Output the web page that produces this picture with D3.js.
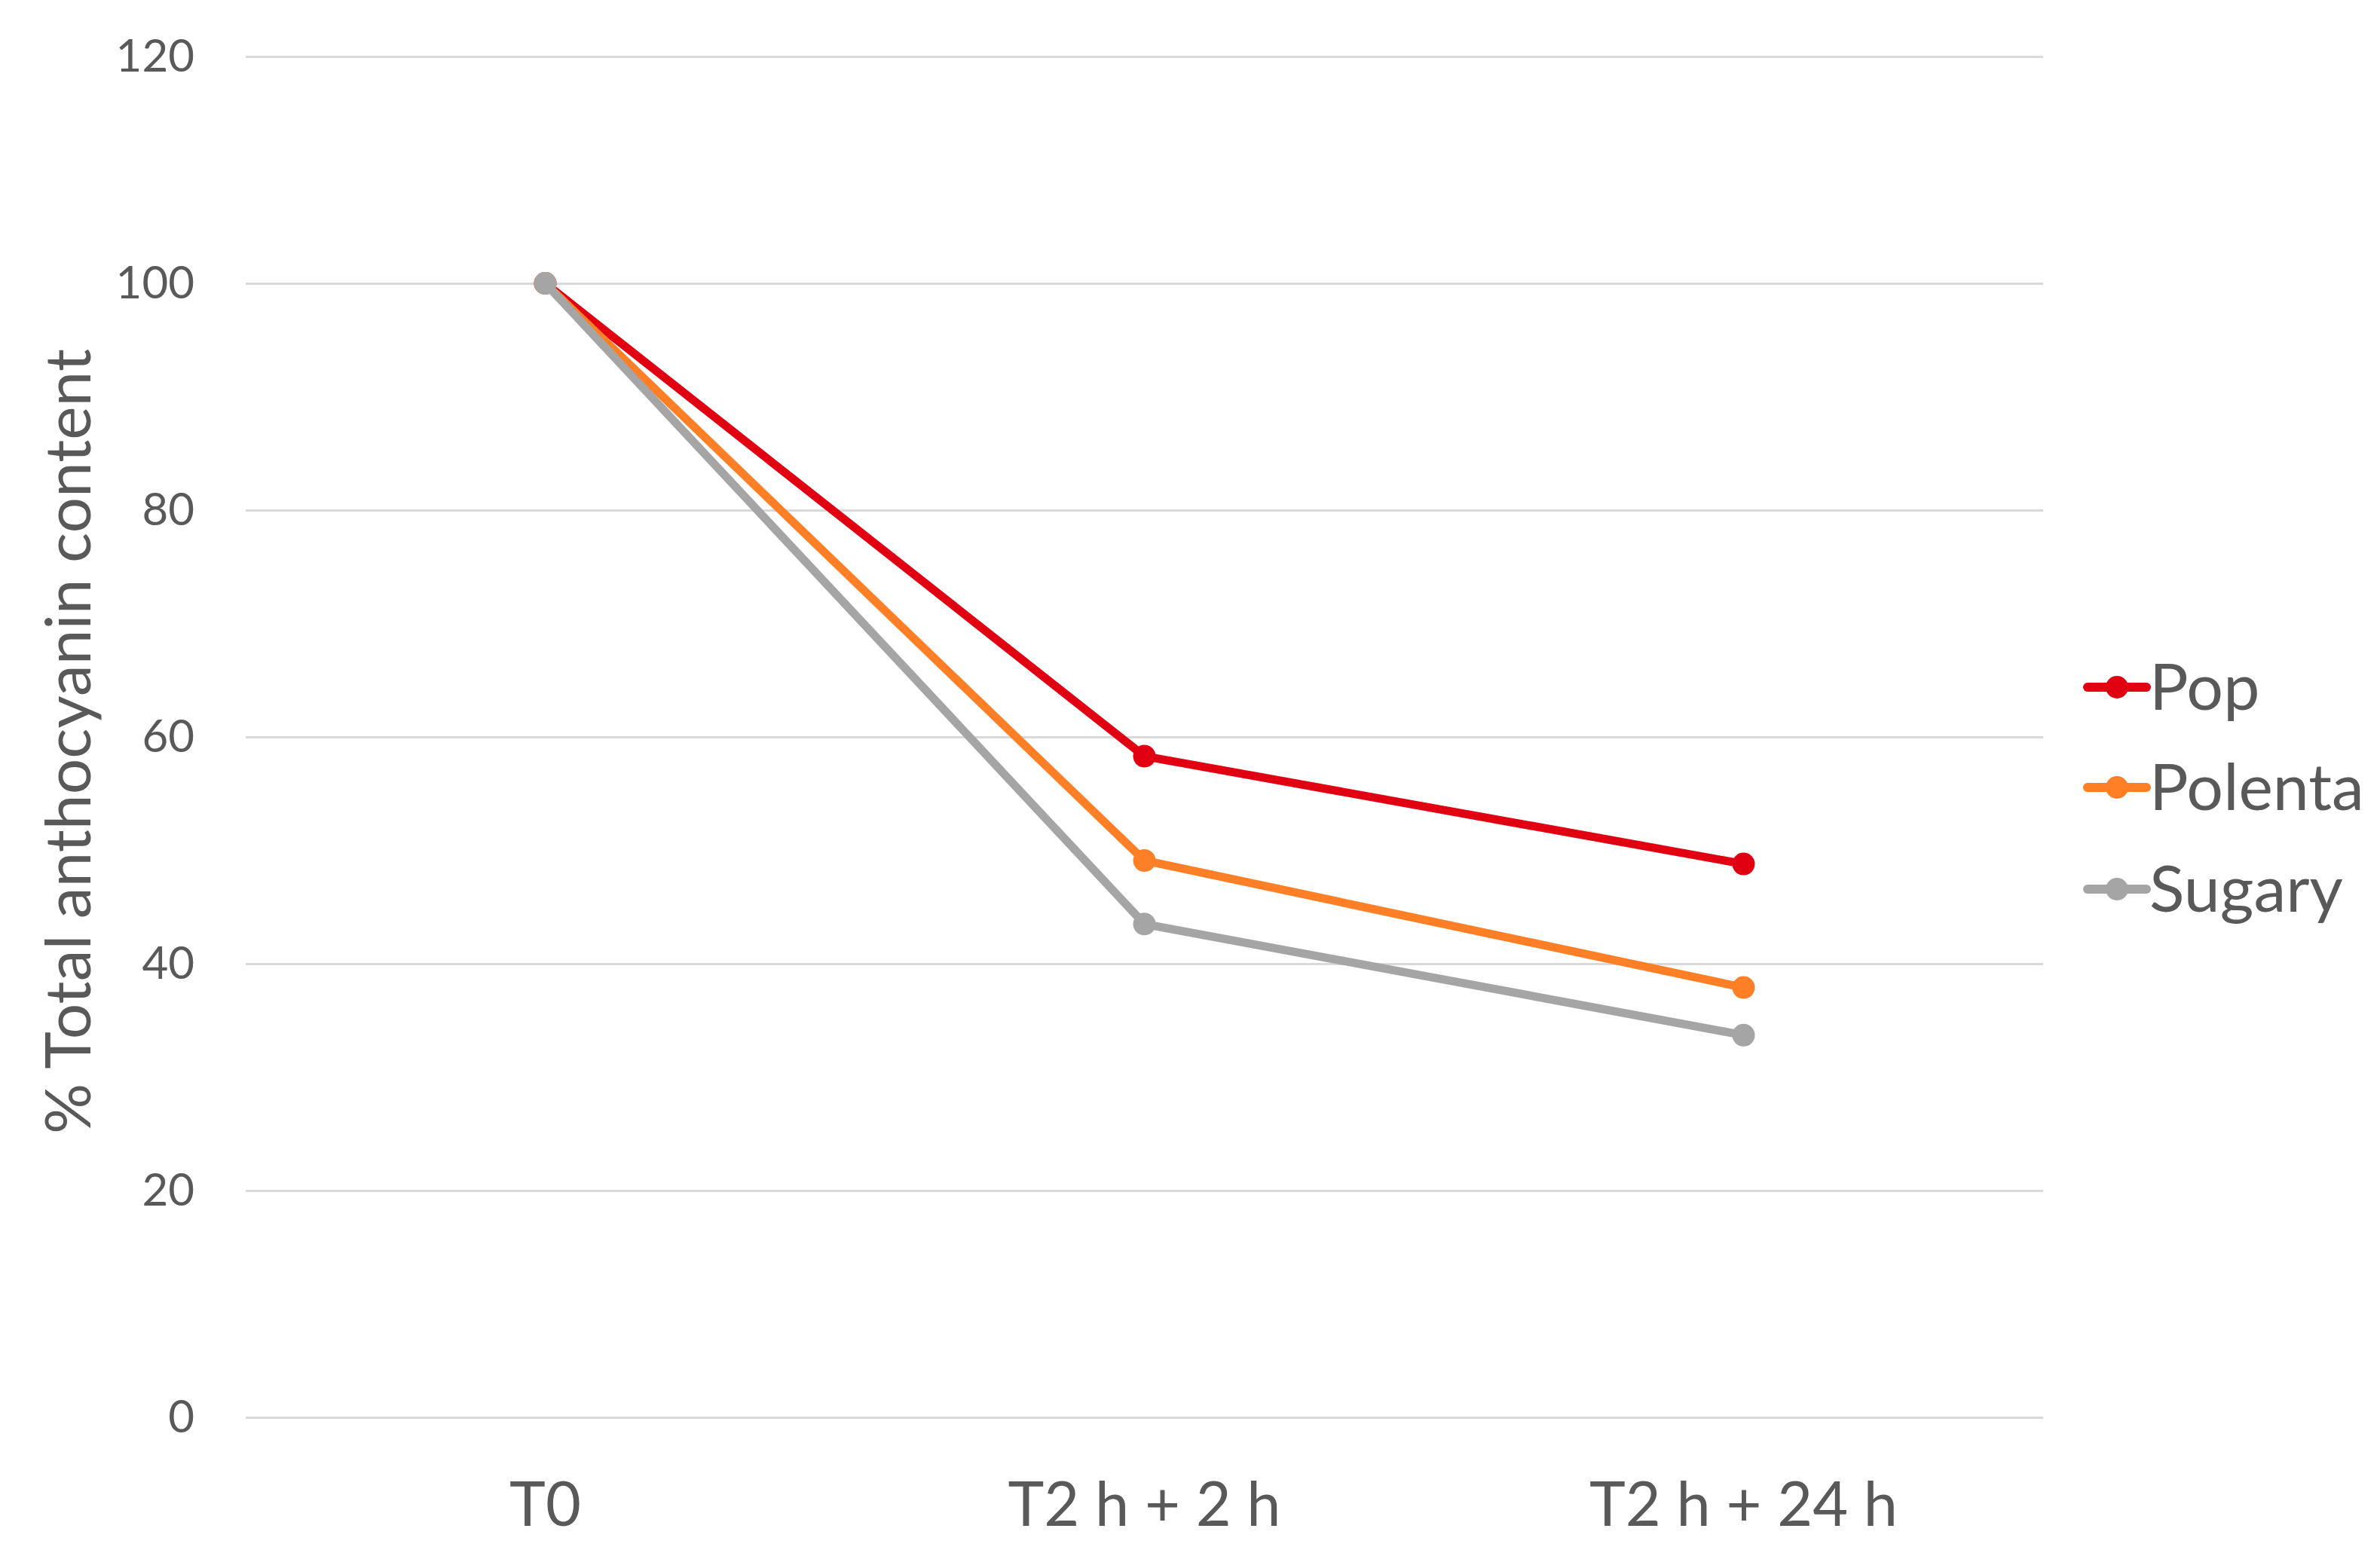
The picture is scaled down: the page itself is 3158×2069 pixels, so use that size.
<!DOCTYPE html>
<html>
<head>
<meta charset="utf-8">
<script src="https://cdn.jsdelivr.net/npm/d3@7"></script>
<style>
html,body{margin:0;padding:0;background:#fff;}
svg{display:block;}
text{font-family:Lato,"Open Sans",sans-serif;fill:#595959;}
</style>
</head>
<body>
<script>
const categories = ["T0", "T2 h + 2 h", "T2 h + 24 h"];
const seriesNames = ["Pop", "Polenta", "Sugary"];
const popValues = [100, 58.3, 48.8];
const polentaValues = [100, 49.1, 37.9];
const sugaryValues = [100, 43.5, 33.7];
const seriesColors = ["#E00012", "#FF7F27", "#A5A5A5"];
const yTicks = [0, 20, 40, 60, 80, 100, 120];
const yTitle = "% Total anthocyanin content";

const series = [
  {name: seriesNames[0], values: popValues, color: seriesColors[0]},
  {name: seriesNames[1], values: polentaValues, color: seriesColors[1]},
  {name: seriesNames[2], values: sugaryValues, color: seriesColors[2]}
];

const W = 3158, H = 2069;
const plot = {left: 326, right: 2711, top: 75, bottom: 1881};

const svg = d3.select("body").append("svg").attr("width", W).attr("height", H);

const x = d3.scaleBand().domain(categories).range([plot.left, plot.right]);
const y = d3.scaleLinear().domain([0, 120]).range([plot.bottom, plot.top]);

// gridlines
const yAxis = d3.axisLeft(y).tickValues(yTicks).tickSize(-(plot.right - plot.left)).tickPadding(68);
const gy = svg.append("g").attr("transform", `translate(${plot.left},0)`).call(yAxis);
gy.select(".domain").remove();
gy.selectAll(".tick line").attr("stroke", "#D9D9D9").attr("stroke-width", 3);
gy.selectAll(".tick text").attr("font-size", 60).style("fill", "#595959").attr("font-family", "Lato");

// x axis labels
const xAxis = d3.axisBottom(x).tickSize(0).tickPadding(0);
const gx = svg.append("g").attr("transform", `translate(0,${plot.bottom})`).call(xAxis);
gx.select(".domain").remove();
gx.selectAll(".tick text").attr("font-size", 81).attr("dy", null).attr("y", 144).style("fill", "#595959").attr("font-family", "Lato");

// y title
svg.append("text")
  .attr("transform", `translate(120,${(plot.top + plot.bottom) / 2 + 6}) rotate(-90)`)
  .attr("text-anchor", "middle")
  .attr("font-size", 84)
  .text(yTitle);

const cx = c => x(c) + x.bandwidth() / 2;
const line = d3.line().x((d, i) => cx(categories[i])).y(d => y(d));

series.forEach(s => {
  svg.append("path").datum(s.values)
    .attr("d", line).attr("fill", "none")
    .attr("stroke", s.color).attr("stroke-width", 11)
    .attr("stroke-linejoin", "round").attr("stroke-linecap", "round");
  svg.selectAll(null).data(s.values).enter().append("circle")
    .attr("cx", (d, i) => cx(categories[i])).attr("cy", d => y(d))
    .attr("r", 15).attr("fill", s.color);
});

// legend
const legY = [912, 1045, 1180];
const leg = svg.append("g");
series.forEach((s, i) => {
  const g = leg.append("g").attr("transform", `translate(0,${legY[i]})`);
  g.append("line").attr("x1", 2770).attr("x2", 2848).attr("y1", 0).attr("y2", 0)
    .attr("stroke", s.color).attr("stroke-width", 12).attr("stroke-linecap", "round");
  g.append("circle").attr("cx", 2809).attr("cy", 0).attr("r", 15).attr("fill", s.color);
  g.append("text").attr("x", 2852).attr("y", 0).attr("dy", "0.35em")
    .attr("font-size", 86).text(s.name);
});
</script>
</body>
</html>
